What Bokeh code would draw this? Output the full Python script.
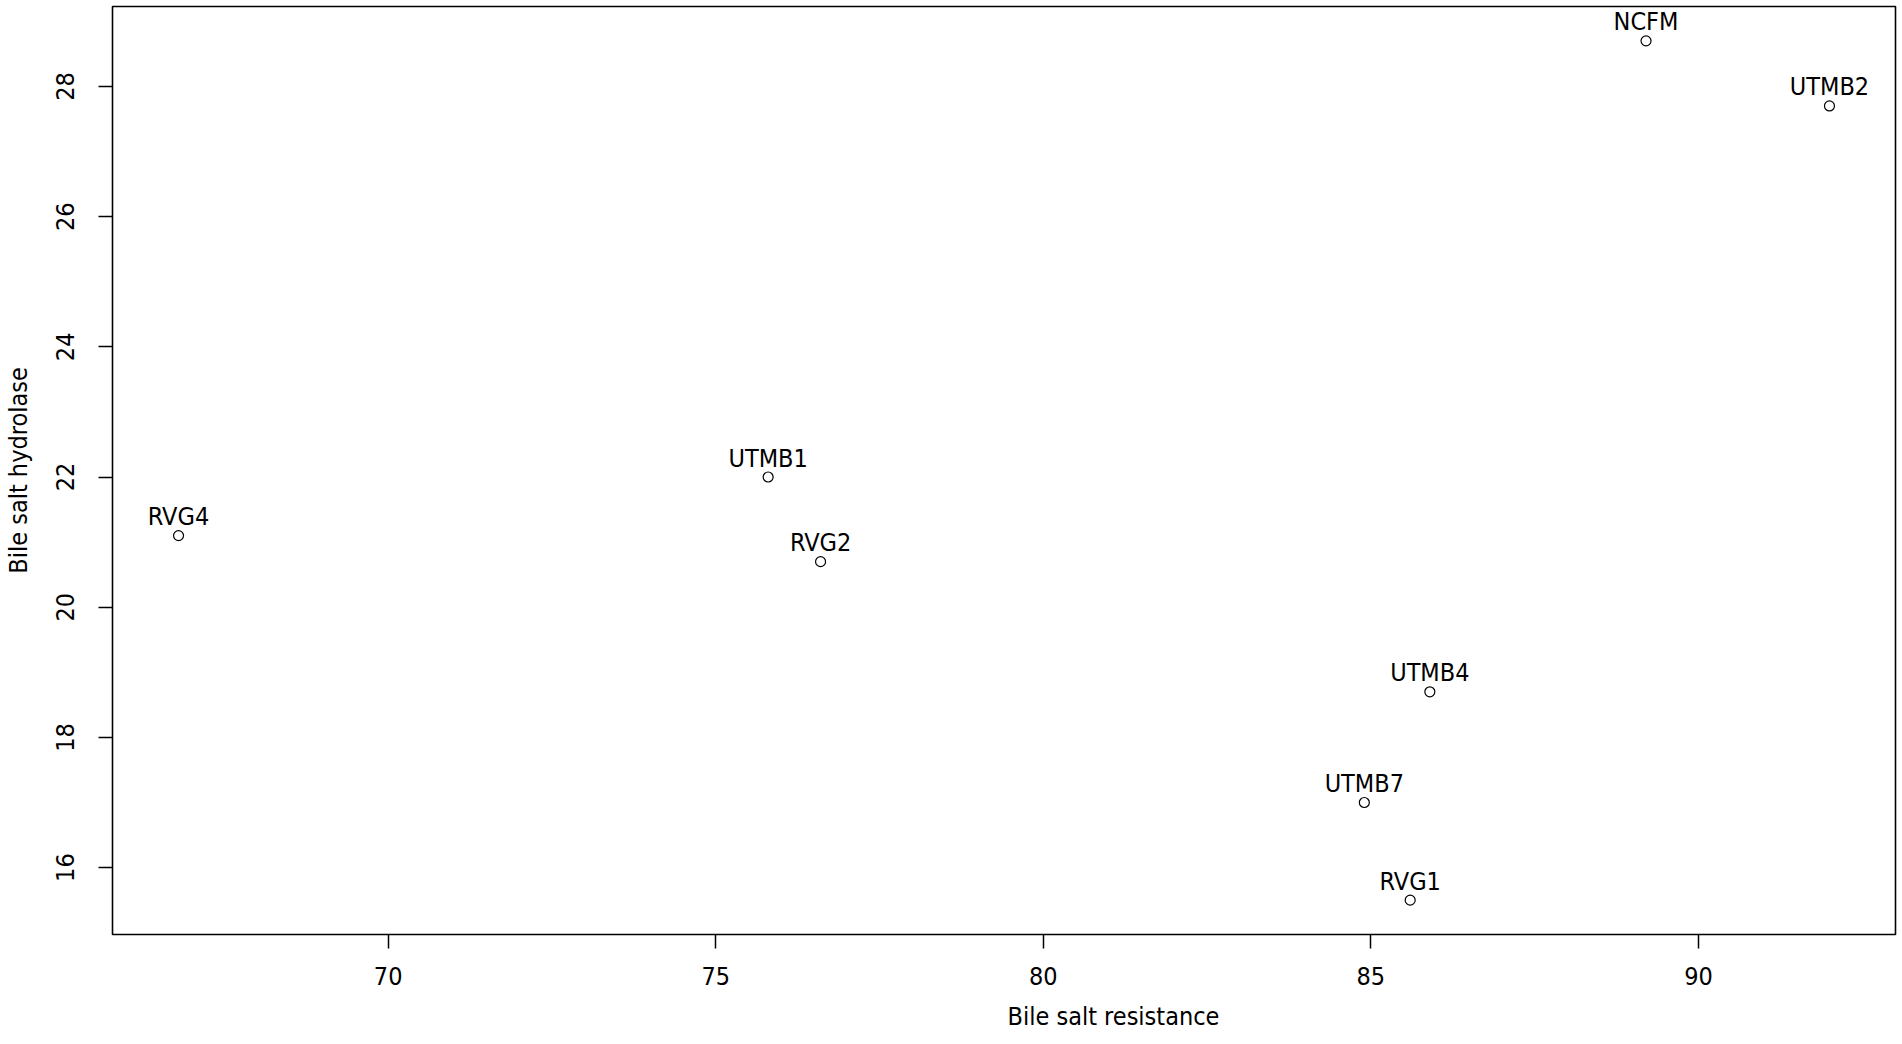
from bokeh.plotting import figure
from bokeh.models import ColumnDataSource, Range1d, FixedTicker, Title
from bokeh.core.properties import value
from bokeh.embed import file_html
from bokeh.resources import INLINE

strains = ["NCFM", "UTMB2", "UTMB1", "RVG4", "RVG2", "UTMB4", "UTMB7", "RVG1"]
bile_salt_resistance = [89.2, 92.0, 75.8, 66.8, 76.6, 85.9, 84.9, 85.6]
bile_salt_hydrolase = [28.7, 27.7, 22.0, 21.1, 20.7, 18.7, 17.0, 15.5]
x_ticks = [70, 75, 80, 85, 90]
y_ticks = [16, 18, 20, 22, 24, 26, 28]

FONT = "DejaVu Sans Condensed, DejaVu Sans"
FS = "25px"

def padded(vals, frac=0.04):
    lo, hi = min(vals), max(vals)
    d = (hi - lo) * frac
    return lo - d, hi + d

xlo, xhi = padded(bile_salt_resistance)
ylo, yhi = padded(bile_salt_hydrolase)

source = ColumnDataSource(dict(x=bile_salt_resistance, y=bile_salt_hydrolase, name=strains))

p = figure(width=1900, height=1044, output_backend="svg", toolbar_location=None,
           x_range=Range1d(xlo, xhi), y_range=Range1d(ylo, yhi),
           min_border_left=111, min_border_right=5, min_border_top=6, min_border_bottom=110)

p.background_fill_color = "white"
p.border_fill_color = "white"
p.outline_line_color = "black"
p.outline_line_width = 1.6
p.xgrid.visible = False
p.ygrid.visible = False

p.scatter("x", "y", source=source, marker="circle", size=10, fill_color=None,
          line_color="black", line_width=1.2)
p.text("x", "y", text="name", source=source, text_align="center", text_baseline="alphabetic",
       y_offset=-19, text_font=value(FONT), text_font_size=FS, text_color="black")

for ax in (p.xaxis[0], p.yaxis[0]):
    ax.axis_line_color = None
    ax.major_tick_line_color = "black"
    ax.major_tick_line_width = 1.5
    ax.major_tick_out = 14
    ax.major_tick_in = 0
    ax.minor_tick_line_color = None
    ax.major_label_text_font = FONT
    ax.major_label_text_font_size = FS
    ax.major_label_text_color = "black"
    ax.axis_label_text_font = FONT
    ax.axis_label_text_font_size = FS
    ax.axis_label_text_font_style = "normal"
    ax.axis_label_text_color = "black"

p.xaxis[0].ticker = FixedTicker(ticks=x_ticks)
p.yaxis[0].ticker = FixedTicker(ticks=y_ticks)
p.xaxis[0].major_label_standoff = 18
p.yaxis[0].major_label_standoff = 24
p.yaxis[0].major_label_orientation = "vertical"
p.yaxis[0].axis_label = "Bile salt hydrolase"
p.yaxis[0].axis_label_standoff = 21

# x-axis title: in the original it sits right of the frame centre
p.add_layout(Title(text="Bile salt resistance", align="left", offset=895, standoff=25,
                   vertical_align="bottom",
                   text_font=FONT, text_font_size=FS, text_font_style="normal",
                   text_color="black"), "below")

open("out.html", "w").write(file_html(p, INLINE))
